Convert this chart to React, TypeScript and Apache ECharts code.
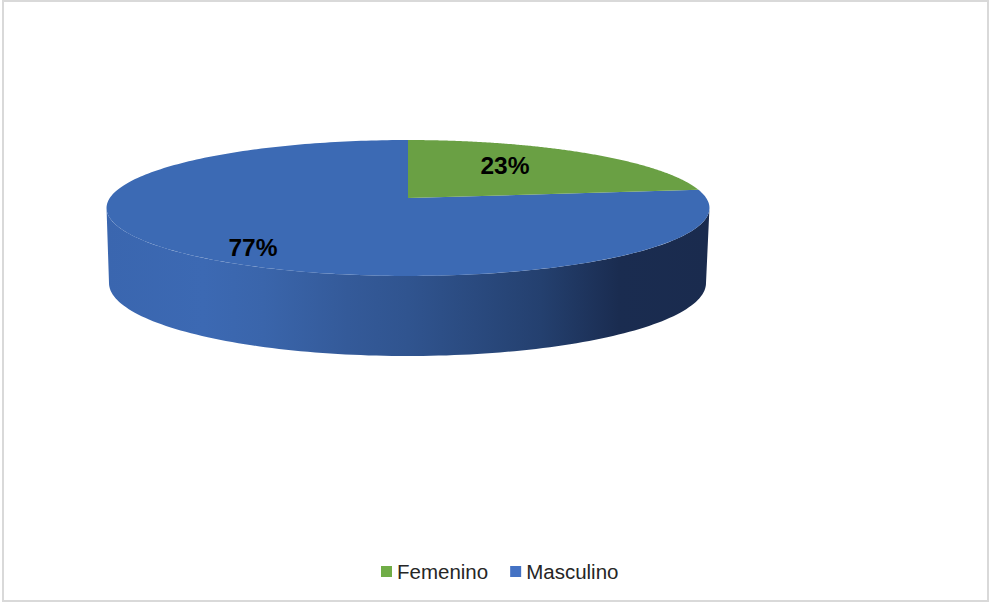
import React, { useEffect, useRef } from "react";
import * as echarts from "echarts";

const CATEGORIES = ["Femenino", "Masculino"];
const VALUES = [23, 77];
const TOP_COLORS = ["#6aa044", "#3c6ab4"];
const LEGEND_COLORS = ["#70ad47", "#4472c4"];

const WIDTH = 989;
const HEIGHT = 603;
const LABEL_POS = [[505, 165], [253, 247]];
const SIDE_STOPS = [
  { offset: 0, color: "#3a66af" },
  { offset: 0.16, color: "#3c69b3" },
  { offset: 0.26, color: "#3a65ab" },
  { offset: 0.4, color: "#345a99" },
  { offset: 0.5, color: "#30548f" },
  { offset: 0.72, color: "#24406f" },
  { offset: 0.85, color: "#1a2c50" },
  { offset: 1, color: "#1a2b4e" },
];

// perspective view of the pie's top disc
const CX = 408;
const APEX_Y = 198;
const R = 298.2;
const YSCALE = 66.5;
const PERSP = 0.147;

function project(u: number, v: number): number[] {
  const w = 1 - PERSP * v;
  return [CX + (R * u) / w, APEX_Y + (YSCALE * v) / w];
}
// angle clockwise from the back of the pie
function rim(a: number): number[] {
  return project(Math.sin(a), -Math.cos(a));
}

function sidePoints(): number[][] {
  const pts: number[][] = [];
  // top rim, from right extreme round the front to the left extreme
  const from = Math.PI - Math.acos(PERSP);
  const to = Math.PI + Math.acos(PERSP);
  for (let i = 0; i <= 120; i++) pts.push(rim(from + ((to - from) * i) / 120));
  // bottom rim, left to right
  for (let i = 0; i <= 120; i++) {
    const t = Math.PI - (Math.PI * i) / 120;
    pts.push([407.5 + 298.5 * Math.cos(t), 283 + 73 * Math.sin(t)]);
  }
  return pts;
}

function makeRenderItem(index: number) {
  return (_params: any, api: any) => {
    const value = api.value(0);
    const total = VALUES.reduce((a, b) => a + b, 0);
    const before = VALUES.slice(0, index).reduce((a, b) => a + b, 0);
    const a0 = (before / total) * Math.PI * 2;
    const a1 = ((before + value) / total) * Math.PI * 2;
    const pts: number[][] = [[CX, APEX_Y]];
    const steps = 240;
    for (let i = 0; i <= steps; i++) pts.push(rim(a0 + ((a1 - a0) * i) / steps));
    const children: any[] = [];
    if (index === 1) {
      children.push({
        type: "polygon",
        shape: { points: sidePoints() },
        style: {
          fill: { type: "linear", x: 0, y: 0, x2: 1, y2: 0, colorStops: SIDE_STOPS },
        },
      });
    }
    children.push({
      type: "polygon",
      shape: { points: pts },
      style: { fill: TOP_COLORS[index] },
    });
    children.push({
      type: "text",
      x: LABEL_POS[index][0],
      y: LABEL_POS[index][1],
      z2: 10,
      style: {
        text: `${Math.round((value / total) * 100)}%`,
        font: 'bold 24.5px "Liberation Sans", Arial, sans-serif',
        fill: "#000000",
        align: "center",
        verticalAlign: "middle",
      },
    });
    return { type: "group", children };
  };
}

export default function App() {
  const ref = useRef<HTMLDivElement>(null);
  useEffect(() => {
    document.body.style.margin = "0";
    const chart = echarts.init(ref.current!, null, { renderer: "svg" });
    chart.setOption({
      animation: false,
      backgroundColor: "#ffffff",
      graphic: [
        {
          type: "rect",
          shape: { x: 3, y: 1, width: 985, height: 600 },
          style: { fill: "none", stroke: "#d9d9d9", lineWidth: 2 },
          silent: true,
        },
      ],
      legend: {
        left: 381,
        top: 561,
        padding: 0,
        itemWidth: 11,
        itemHeight: 11,
        itemGap: 22,
        icon: "rect",
        selectedMode: false,
        data: CATEGORIES.map((name, i) => ({ name, itemStyle: { color: LEGEND_COLORS[i] } })),
        textStyle: {
          fontFamily: '"Liberation Sans", Arial, sans-serif',
          fontSize: 20.5,
          color: "#262626",
        },
      },
      series: [1, 0].map((i) => ({
        type: "custom",
        name: CATEGORIES[i],
        coordinateSystem: "none",
        silent: true,
        itemStyle: { color: LEGEND_COLORS[i] },
        data: [[VALUES[i]]],
        renderItem: makeRenderItem(i),
      })),
    });
    return () => chart.dispose();
  }, []);
  return <div ref={ref} style={{ width: WIDTH, height: HEIGHT }} />;
}
